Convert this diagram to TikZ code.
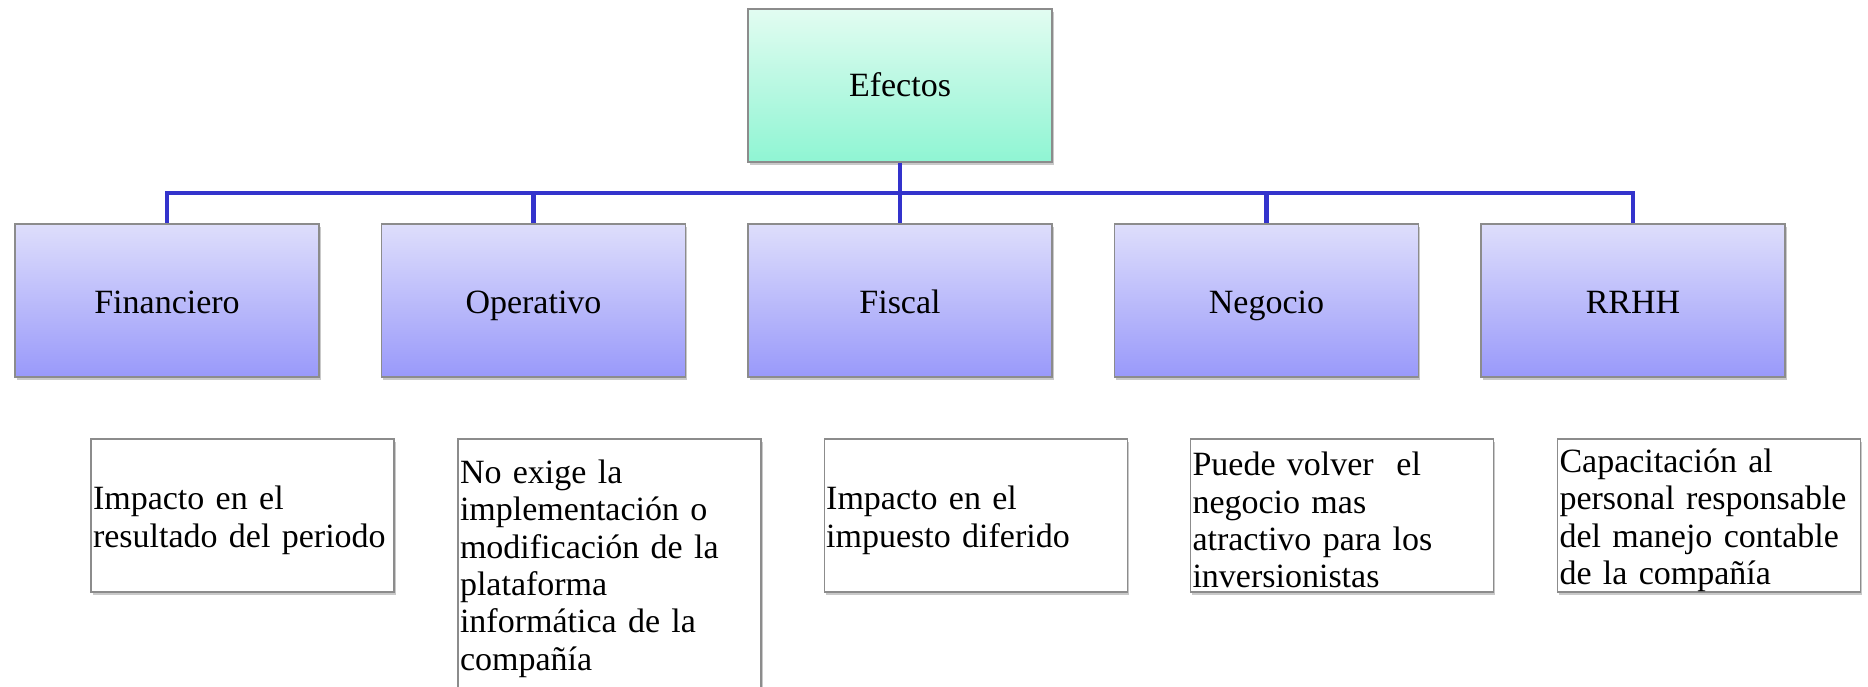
\documentclass[tikz,border=0pt]{standalone}
\usepackage{fontspec}
\setmainfont{Liberation Serif}
\usetikzlibrary{shadows}
\definecolor{conncol}{RGB}{51,51,204}
\definecolor{bordercol}{RGB}{140,140,140}
\definecolor{midtop}{RGB}{222,222,251}
\definecolor{midbot}{RGB}{153,153,250}
\definecolor{toptop}{RGB}{226,252,241}
\definecolor{topbot}{RGB}{143,245,211}
\tikzset{
  shadowed/.style={drop shadow={shadow xshift=1.5pt, shadow yshift=-3pt, opacity=0.3, fill=black!70}},
  rootbox/.style={draw=bordercol, line width=1.2pt, shadowed, top color=toptop, bottom color=topbot,
    minimum width=304pt, minimum height=153pt, inner sep=0pt, text height=30pt, text depth=7pt,
    font=\fontsize{34}{37.4}\selectfont},
  catbox/.style={draw=bordercol, line width=1.2pt, shadowed, top color=midtop, bottom color=midbot,
    minimum width=304pt, minimum height=153pt, inner sep=0pt, text height=30pt, text depth=5pt,
    font=\fontsize{34}{37.4}\selectfont},
  textbox/.style={draw=bordercol, line width=1.2pt, shadowed, fill=white,
    text width=299pt, minimum height=153pt, inner xsep=2pt, inner ysep=0pt, align=left,
    font=\fontsize{34}{37.4}\selectfont, execute at begin node={\rule{0pt}{33pt}}},
  conn/.style={draw=conncol, line width=4.7pt, line join=miter}
}
\begin{document}
\begin{tikzpicture}[x=1pt, y=-1pt]
\useasboundingbox (0,0) rectangle (1868,687);
\node[rootbox] (root) at (900,85.5) {Efectos};
\node[catbox] (c1) at (167,300.5) {Financiero};
\node[catbox] (c2) at (533.5,300.5) {Operativo};
\node[catbox] (c3) at (900,300.5) {Fiscal};
\node[catbox] (c4) at (1266.5,300.5) {Negocio};
\node[catbox] (c5) at (1633,300.5) {RRHH};
\coordinate (bus) at (900,193);
\draw[conn] (root.south) -- (bus);
\draw[conn] (bus) -| (c1.north);
\draw[conn] (bus) -| (c2.north);
\draw[conn] (bus) -- (c3.north);
\draw[conn] (bus) -| (c4.north);
\draw[conn] (bus) -| (c5.north);
\node[textbox] (t1) at (242.5,515.5) {Impacto en el\\resultado del periodo};
\node[textbox, minimum height=250pt] (t2) at (609.5,564) {No exige la\\implementación o\\modificación de la\\plataforma\\informática de la\\compañía};
\node[textbox] (t3) at (975.7,515.5) {Impacto en el\\impuesto diferido};
\node[textbox] (t4) at (1342,515.5) {Puede volver\ \ el\\negocio mas\\atractivo para los\\inversionistas};
\node[textbox] (t5) at (1709,515.5) {Capacitación al\\personal responsable\\del manejo contable\\de la compañía};
\end{tikzpicture}
\end{document}
